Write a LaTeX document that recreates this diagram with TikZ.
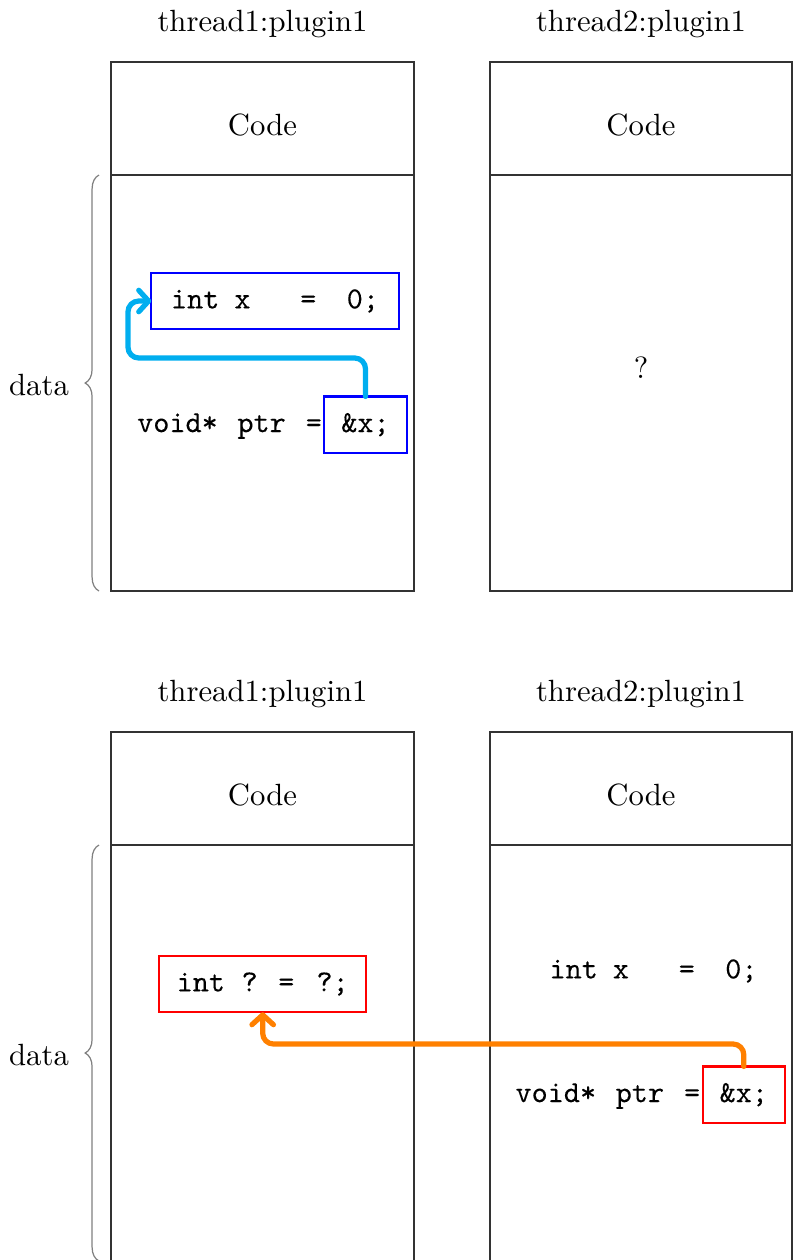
\documentclass[tikz,border=0pt]{standalone}
\usepackage{fontspec}
\setmonofont{Latin Modern Mono}[FakeBold=0.12]
\usetikzlibrary{arrows.meta,decorations.pathreplacing,calc}

\definecolor{ptrblue}{RGB}{0,174,239}
\definecolor{ptrorange}{RGB}{255,128,0}

% one drawing unit
\newcommand\pxu{0.3257pt}
\newcommand\codefont{\fontsize{10}{12}\selectfont\ttfamily}
% the two code lines that recur
\newcommand\intline{int\hspace{4.9pt}x\hspace{16.2pt}=\hspace{9.9pt}0;}
\newcommand\ptrline{void*\hspace{6.4pt}ptr\hspace{6.5pt}=}

\tikzset{
  frame/.style={draw=black!80, line width=0.35pt, rectangle, inner sep=0pt, outer sep=0pt},
  heading/.style={anchor=base, inner sep=0pt},
  codetext/.style={font=\codefont, text height=6.2pt, text depth=1.4pt,
                   inner ysep=5.4pt, inner xsep=0.8pt, outer sep=0pt},
  varbox/.style={codetext, draw, line width=0.7pt},
  link/.style={line width=1.7pt, rounded corners=3.5pt, line cap=round,
               -{Straight Barb[length=3.2pt,width=7pt,round]}},
  bracket/.style={draw=gray, line width=0.4pt, decorate,
                  decoration={brace, amplitude=4.5pt}}
}

\begin{document}
\begin{tikzpicture}[x=\pxu, y=-\pxu]
\useasboundingbox (0,0) rectangle (793,1260);

% ---------- upper scenario ----------
\node[heading] (tA) at (262.5,31.7) {thread1:plugin1};
\node[heading] (tB) at (641,31.7) {thread2:plugin1};

\node[frame, minimum width=303*\pxu, minimum height=113*\pxu] (codeA) at (262.5,118.5) {};
\node[frame, minimum width=303*\pxu, minimum height=416*\pxu] (dataA) at (262.5,383) {};
\node[frame, minimum width=302*\pxu, minimum height=113*\pxu] (codeB) at (641,118.5) {};
\node[frame, minimum width=302*\pxu, minimum height=416*\pxu] (dataB) at (641,383) {};

\node[heading] (cA) at (262.5,135) {Code};
\node[heading] (cB) at (641,135) {Code};

\node[varbox, draw=blue, minimum width=247.6*\pxu] (xA) at (275,301) {\intline};
\node[varbox, draw=blue, minimum width=82.3*\pxu] (pA) at (365.5,424.7) {\&x;};
\node[codetext, anchor=east] (vA) at (pA.west) {\ptrline};

\node[heading] (qB) at (641,378) {?};

\coordinate (bendA) at (128,358);
\draw[link, ptrblue] (pA.north) |- (bendA) |- (xA.west);

\draw[bracket] ([xshift=-12*\pxu]dataA.south west) -- ([xshift=-12*\pxu]dataA.north west);
\node[heading] (dA) at (39,395) {data};

% ---------- lower scenario ----------
\node[heading] (tC) at (262.5,701.7) {thread1:plugin1};
\node[heading] (tD) at (641,701.7) {thread2:plugin1};

\node[frame, minimum width=303*\pxu, minimum height=113*\pxu] (codeC) at (262.5,788.5) {};
\node[frame, minimum width=303*\pxu, minimum height=416*\pxu] (dataC) at (262.5,1053) {};
\node[frame, minimum width=302*\pxu, minimum height=113*\pxu] (codeD) at (641,788.5) {};
\node[frame, minimum width=302*\pxu, minimum height=416*\pxu] (dataD) at (641,1053) {};

\node[heading] (cC) at (262.5,805) {Code};
\node[heading] (cD) at (641,805) {Code};

\node[varbox, draw=red, minimum width=206.7*\pxu] (qC) at (262.7,984)
  {int\hspace{5.4pt}?\hspace{6.7pt}=\hspace{7.2pt}?;};

\node[codetext] (xD) at (653.5,971) {\intline};
\node[varbox, draw=red, minimum width=82.3*\pxu] (pD) at (743.8,1094.7) {\&x;};
\node[codetext, anchor=east] (vD) at (pD.west) {\ptrline};

\coordinate (bendY) at (0,1044);
\draw[link, ptrorange] (pD.north) |- (qC.south |- bendY) -- (qC.south);

\draw[bracket] ([xshift=-12*\pxu]dataC.south west) -- ([xshift=-12*\pxu]dataC.north west);
\node[heading] (dC) at (39,1065) {data};
\end{tikzpicture}
\end{document}
